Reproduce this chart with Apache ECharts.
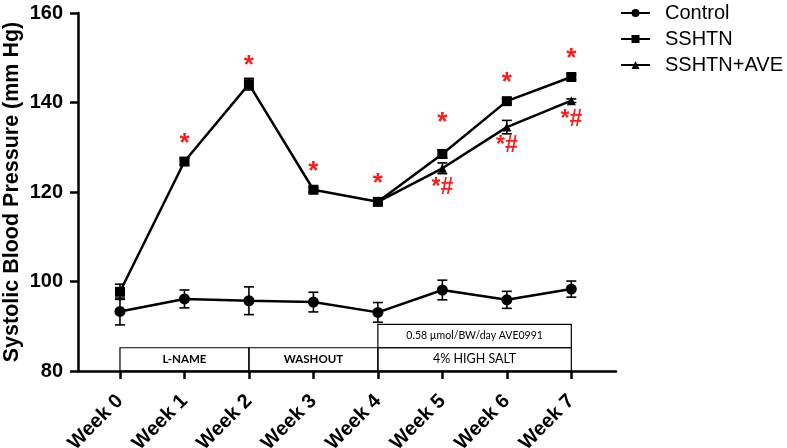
<!DOCTYPE html>
<html>
<head>
<meta charset="utf-8">
<script src="https://cdn.jsdelivr.net/npm/echarts@6/dist/echarts.min.js"></script>
<style>
  html, body { margin: 0; padding: 0; background: #fff; }
  #main { width: 787px; height: 448px; }
</style>
</head>
<body>
<div id="main"></div>
<script>
// x positions and tick labels
const weekPos = [0, 1, 2, 3, 4, 5, 6, 7];
const weeks = ['Week 0', 'Week 1', 'Week 2', 'Week 3', 'Week 4', 'Week 5', 'Week 6', 'Week 7'];

// mean systolic pressure (mm Hg) and error bar half-lengths
const control    = [93.3, 96.1, 95.7, 95.4, 93.1, 98.1, 95.9, 98.3];
const controlErr = [3.0, 2.0, 3.1, 2.2, 2.2, 2.2, 1.9, 1.8];
const sshtn      = [97.7, 126.8, 144.1, 120.5, 117.8, 128.5, 140.3, 145.7];
const sshtnErr   = [1.7, 0.7, 1.3, 0.5, 0.5, 0.9, 0.5, 0.6];
const ave        = [null, null, null, null, 117.8, 125.3, 134.5, 140.4];
const aveErr     = [0, 0, 0, 0, 0.4, 1.2, 1.5, 0.4];

// significance marks
const sshtnMarks = ['', '*', '*', '*', '*', '*', '*', '*'];
const aveMarks   = ['', '', '', '', '', '*#', '*#', '*#'];

// treatment phases (boxes along the bottom)
const phaseNames = ['L-NAME', 'WASHOUT', '4% HIGH SALT'];
const phaseStart = [0, 2, 4];
const phaseEnd   = [2, 4, 7];
const drugName   = '0.58 µmol/BW/day AVE0991';

const chart = echarts.init(document.getElementById('main'));

const pairs = (arr) => arr.map((v, i) => v == null ? null : [weekPos[i], v]).filter(d => d);

const errData = (arr, err) => arr.map((v, i) => v == null ? null : [weekPos[i], v - err[i], v + err[i]]).filter(d => d);

const errSeries = (arr, err) => ({
  type: 'custom',
  silent: true,
  z: 4,
  data: errData(arr, err),
  encode: { x: 0, y: [1, 2] },
  renderItem: function (params, api) {
    const lo = api.coord([api.value(0), api.value(1)]);
    const hi = api.coord([api.value(0), api.value(2)]);
    const w = 5;
    const style = { stroke: '#000', lineWidth: 1.6 };
    return {
      type: 'group',
      children: [
        { type: 'line', shape: { x1: lo[0], y1: lo[1], x2: hi[0], y2: hi[1] }, style: style },
        { type: 'line', shape: { x1: lo[0] - w, y1: lo[1], x2: lo[0] + w, y2: lo[1] }, style: style },
        { type: 'line', shape: { x1: hi[0] - w, y1: hi[1], x2: hi[0] + w, y2: hi[1] }, style: style }
      ]
    };
  }
});

const starLabel = {
  color: '#ff1a1a',
  fontSize: 26,
  fontWeight: 'bold',
  fontFamily: 'Liberation Sans'
};

const sshtnData = sshtn.map((v, i) => ({
  value: [weekPos[i], v],
  label: {
    show: sshtnMarks[i] !== '',
    formatter: sshtnMarks[i],
    position: 'top',
    distance: i === 5 ? 13 : 0
  }
}));

const aveData = ave.map((v, i) => v == null ? null : ({
  value: [weekPos[i], v],
  label: {
    show: aveMarks[i] !== '',
    formatter: aveMarks[i],
    position: 'bottom',
    distance: 3,
    fontSize: 23
  }
})).filter(d => d);

const boxes = phaseNames.map((n, i) => [
  { name: n, xAxis: phaseStart[i], yAxis: 80 },
  { xAxis: phaseEnd[i], yAxis: 85.2 }
]);
boxes.push([
  { name: drugName, xAxis: 4, yAxis: 85.2, label: { fontSize: 10.5, fontWeight: 'normal' } },
  { xAxis: 7, yAxis: 90.4 }
]);
boxes[2][0].label = { fontSize: 12.5, fontWeight: 'normal' };

const option = {
  backgroundColor: '#fff',
  animation: false,
  grid: { left: 78, right: 171, top: 13, bottom: 77, outerBoundsMode: 'none' },
  legend: {
    orient: 'vertical',
    left: 615,
    top: -2,
    itemWidth: 29,
    itemHeight: 10,
    itemGap: 6,
    data: ['Control', 'SSHTN', 'SSHTN+AVE'],
    textStyle: { fontSize: 20, color: '#000', fontFamily: 'Liberation Sans', padding: [0, 0, 0, 10] }
  },
  xAxis: {
    type: 'value',
    min: -0.651,
    max: 7.693,
    axisLine: { onZero: false, lineStyle: { color: '#000', width: 2.5 } },
    axisTick: { show: true, length: 8, lineStyle: { color: '#000', width: 2.5 }, customValues: weekPos },
    axisLabel: {
      customValues: weekPos,
      formatter: (v) => weeks[Math.round(v)],
      rotate: 45,
      margin: 27,
      color: '#000',
      fontSize: 20,
      fontWeight: 'bold',
      fontFamily: 'Liberation Sans'
    },
    splitLine: { show: false }
  },
  yAxis: {
    type: 'value',
    min: 80,
    max: 160,
    interval: 20,
    name: 'Systolic Blood Pressure (mm Hg)',
    nameLocation: 'middle',
    nameGap: 55,
    nameMoveOverlap: false,
    nameTextStyle: { fontSize: 21.5, fontWeight: 'bold', color: '#000', fontFamily: 'Liberation Sans' },
    axisLine: { show: true, onZero: false, lineStyle: { color: '#000', width: 2.5 } },
    axisTick: { show: true, length: 8, lineStyle: { color: '#000', width: 2.5 } },
    axisLabel: { margin: 15, color: '#000', fontSize: 20, fontWeight: 'bold', fontFamily: 'Liberation Sans' },
    splitLine: { show: false }
  },
  series: [
    {
      name: 'Control',
      type: 'line',
      data: pairs(control),
      symbol: 'circle',
      symbolSize: 11,
      z: 3,
      itemStyle: { color: '#000' },
      lineStyle: { color: '#000', width: 2.5 },
      markArea: {
        silent: true,
        itemStyle: { color: 'rgba(255,255,255,0)', borderColor: '#000', borderWidth: 1.2 },
        label: {
          show: true,
          position: 'inside',
          color: '#000',
          fontSize: 11.5,
          fontWeight: 'bold',
          fontFamily: 'Lato'
        },
        data: boxes
      }
    },
    {
      name: 'SSHTN',
      type: 'line',
      data: sshtnData,
      symbol: 'rect',
      symbolSize: 10,
      z: 3,
      itemStyle: { color: '#000' },
      lineStyle: { color: '#000', width: 2.5 },
      label: starLabel
    },
    {
      name: 'SSHTN+AVE',
      type: 'line',
      data: aveData,
      symbol: 'triangle',
      symbolSize: 9,
      z: 3,
      itemStyle: { color: '#000' },
      lineStyle: { color: '#000', width: 2.5 },
      label: starLabel
    },
    errSeries(control, controlErr),
    errSeries(sshtn, sshtnErr),
    errSeries(ave, aveErr)
  ]
};

chart.setOption(option);
</script>
</body>
</html>
